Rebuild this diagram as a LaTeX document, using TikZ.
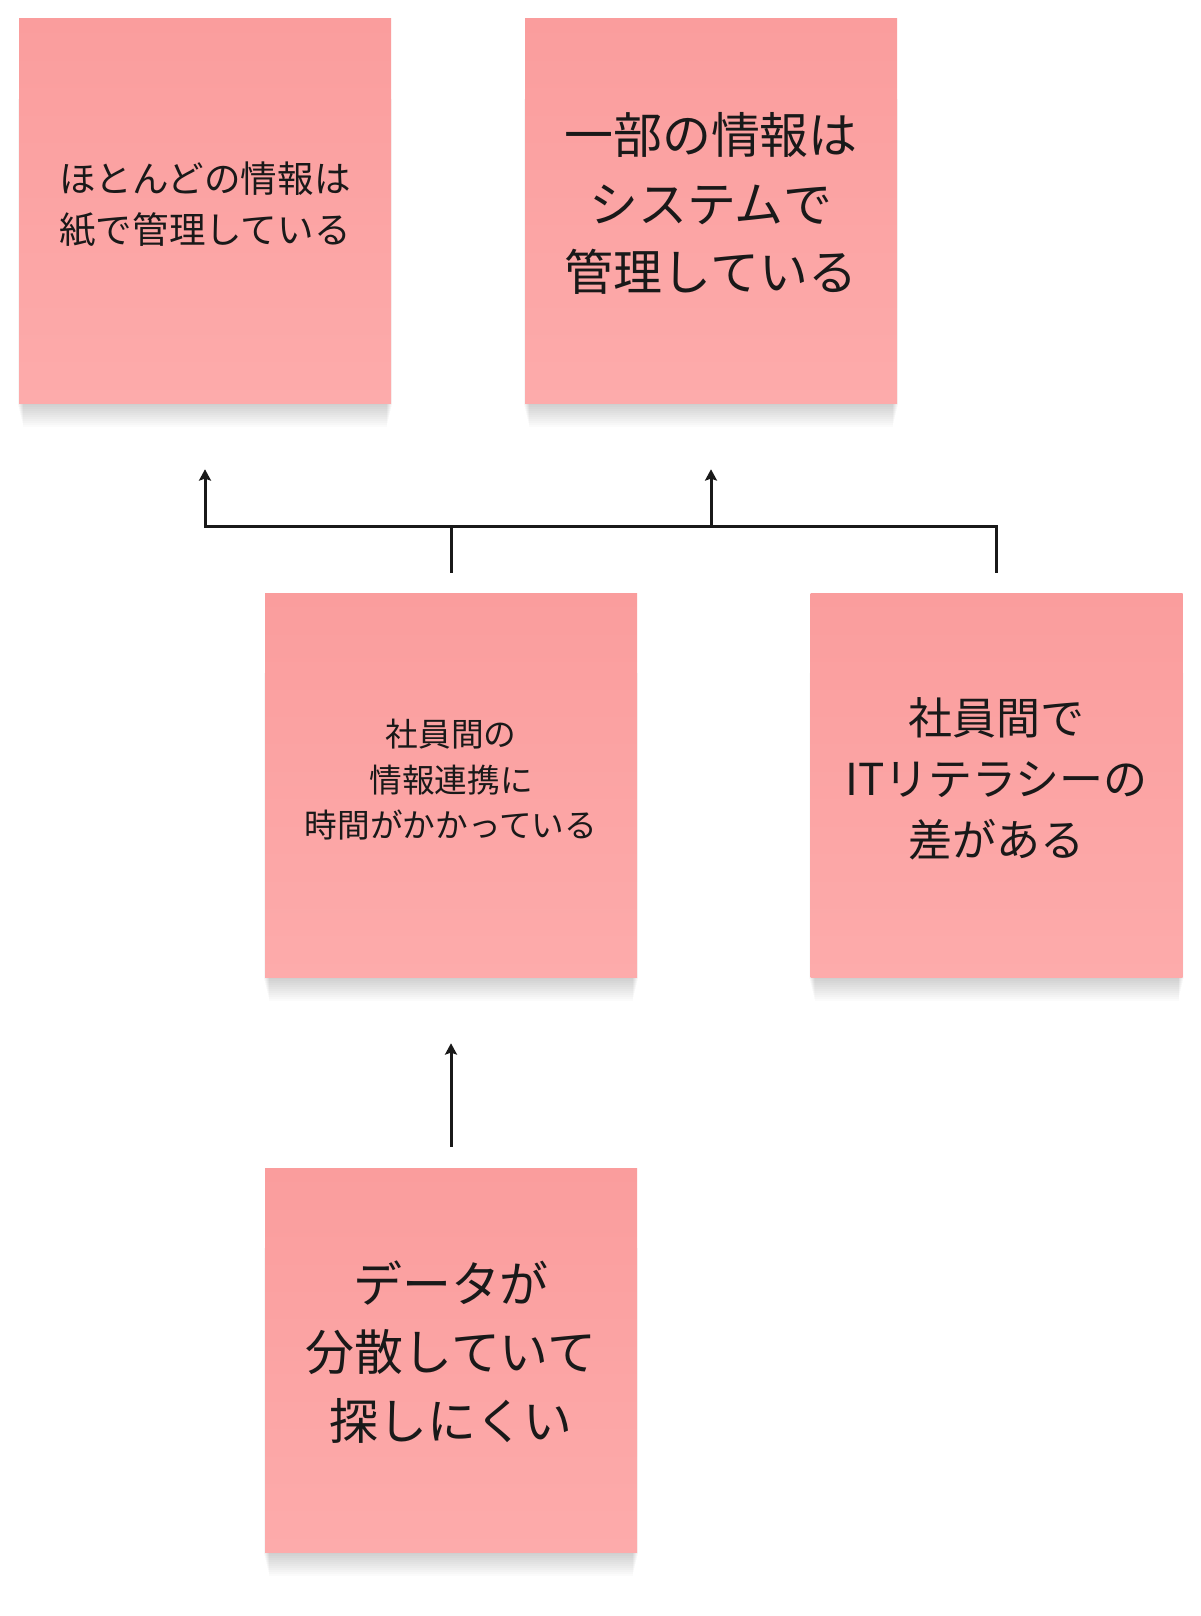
\documentclass[tikz,border=0pt]{standalone}
\usepackage{fontspec}
\newfontfamily\jpfont{Noto Sans CJK JP}
\usetikzlibrary{arrows.meta,backgrounds}
\definecolor{noteTop}{RGB}{250,157,157}
\definecolor{noteBot}{RGB}{253,171,171}
\definecolor{ink}{RGB}{25,25,25}
\tikzset{
  note/.style={rectangle, inner sep=0pt, minimum width=279pt, minimum height=288pt,
    top color=noteTop, bottom color=noteBot},
  txt/.style={align=center, text=ink, inner sep=0pt},
  conn/.style={draw=ink, line width=2.25pt},
  tip/.style={-{Stealth[length=8.5pt,width=9pt,inset=1.5pt]}},
}
\begin{document}
\begin{tikzpicture}[x=0.75pt,y=-0.75pt]
\useasboundingbox (0,0) rectangle (1200,1616);
\node[note] (b1) at (205,211) {};
\node[note] (b2) at (711,211) {};
\node[note] (b3) at (451,785) {};
\node[note] (b4) at (996.5,785) {};
\node[note] (b5) at (451,1360) {};
\node[txt, font=\jpfont\fontsize{27.4pt}{38.3pt}\selectfont] (t1) at ([yshift=5pt]b1.center)
  {ほとんどの情報は\\紙で管理している};
\node[txt, font=\jpfont\fontsize{36.7pt}{51.4pt}\selectfont] (t2) at ([yshift=5.5pt]b2.center)
  {一部の情報は\\システムで\\管理している};
\node[txt, font=\jpfont\fontsize{24.5pt}{34.1pt}\selectfont] (t3) at ([yshift=4pt]b3.center)
  {社員間の\\情報連携に\\時間がかかっている};
\node[txt, font=\jpfont\fontsize{33pt}{45.75pt}\selectfont] (t4) at ([yshift=4.5pt]b4.center)
  {社員間で\\ITリテラシーの\\差がある};
\node[txt, font=\jpfont\fontsize{36.7pt}{51.4pt}\selectfont] (t5) at ([yshift=6pt]b5.center)
  {データが\\分散していて\\探しにくい};
\begin{pgfonlayer}{background}
\fill[white] (0,0) rectangle (1200,1616);
\foreach \n in {b1,b2,b3,b4,b5}{
  \foreach \i in {1,...,12}{
    \fill[black,opacity=0.014] ([xshift={-1pt+0.35pt*\i}, yshift={-1.5pt*\i}]\n.south west)
      rectangle ([xshift={1pt-0.35pt*\i}, yshift=-60pt]\n.north east);
  }
}
\end{pgfonlayer}
\coordinate (bus) at (0,526);
\draw[conn] ([yshift=15pt]b3.north) -- (b3.north |- bus);
\draw[conn,tip] ([yshift=15pt]b4.north) -- (b4.north |- bus) -- (b1.south |- bus) -- ([yshift=-49.5pt]b1.south);
\draw[conn,tip] (b2.south |- bus) -- ([yshift=-49.5pt]b2.south);
\draw[conn,tip] ([yshift=15.75pt]b5.north) -- ([yshift=-49.5pt]b3.south);
\end{tikzpicture}
\end{document}
